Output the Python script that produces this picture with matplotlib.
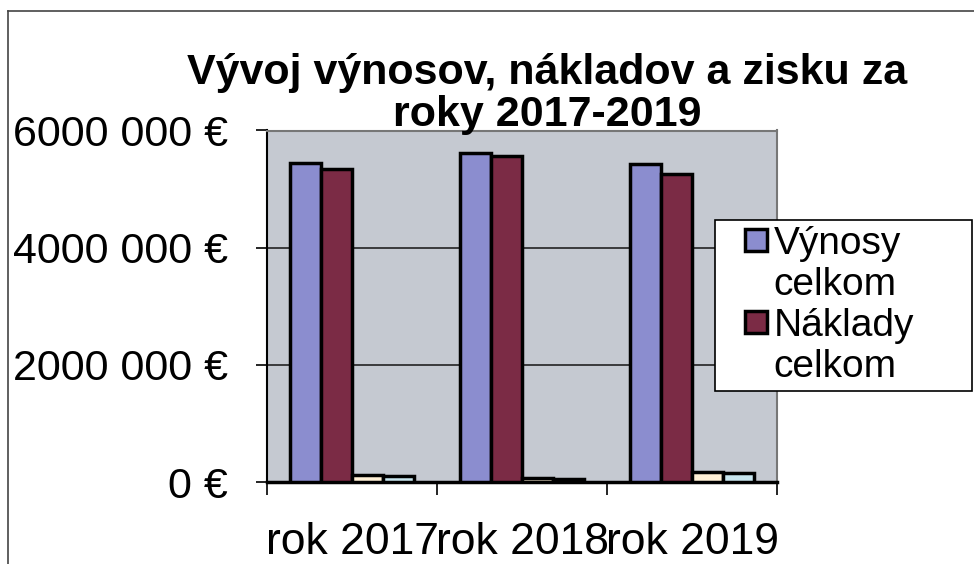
import matplotlib.pyplot as plt
from matplotlib.lines import Line2D
import numpy as np

plt.rcParams['font.family'] = ['Liberation Sans', 'DejaVu Sans']

# data
years = ['rok 2017', 'rok 2018', 'rok 2019']
vynosy = [5440000, 5620000, 5430000]
naklady = [5340000, 5570000, 5250000]
zisk_pred = [120000, 70000, 175000]
zisk_po = [95000, 45000, 160000]
series_names = ['Výnosy\ncelkom', 'Náklady\ncelkom']
yticks = [0, 2000000, 4000000, 6000000]
ytick_labels = ['0 €', '2000 000 €', '4000 000 €', '6000 000 €']

colors = ['#8b8dcf', '#7b2b45', '#fff0d6', '#c9e6ef']

fig = plt.figure(figsize=(9.74, 5.64), dpi=100)
ax = fig.add_axes([267/974, 1-482/564, 510/974, 351.5/564])
ax.set_facecolor('#c5c9d1')

x = np.arange(len(years))
w = 1/5.5
all_series = [vynosy, naklady, zisk_pred, zisk_po]
for i, (vals, c) in enumerate(zip(all_series, colors)):
    ax.bar(x - 1.5*w + i*w, vals, width=w, color=c, edgecolor='black',
           linewidth=2.5, zorder=3)

ax.set_xlim(-0.5, 2.5)
ax.set_ylim(0, 6000000)
ax.set_yticks(yticks)
ax.set_yticklabels(ytick_labels, fontsize=31)
ax.yaxis.grid(True, color='#222222', linewidth=1.2, zorder=1)
ax.tick_params(axis='y', length=8, width=1.2, pad=20)

ax.set_xticks([-0.5, 0.5, 1.5, 2.5])
ax.set_xticklabels([])
ax.tick_params(axis='x', which='major', length=9, width=1.2, direction='out')
ax.set_xticks(x, minor=True)
ax.set_xticklabels(years, minor=True, fontsize=32)
ax.tick_params(axis='x', which='minor', length=0, pad=29)

for s in ['top', 'right']:
    ax.spines[s].set_color('#777777')
    ax.spines[s].set_linewidth(1.5)
ax.spines['left'].set_linewidth(1.5)
ax.spines['bottom'].set_linewidth(2.5)

fig.text(0.562, 1-94/564, 'Vývoj výnosov, nákladov a zisku za\nroky 2017-2019',
         ha='center', va='center', fontsize=31, fontweight='bold',
         linespacing=1.08)

# legend: one square per series, second line of label without marker
handles, labels = [], []
for name, c in zip(series_names, colors[:2]):
    first, second = name.split('\n')
    handles.append(Line2D([], [], marker='s', markersize=16, linestyle='none',
                          markerfacecolor=c, markeredgecolor='black',
                          markeredgewidth=2.5))
    labels.append(first)
    handles.append(Line2D([], [], linestyle='none'))
    labels.append(second)
leg = fig.legend(handles, labels, loc='upper left', mode='expand', numpoints=1,
                 bbox_to_anchor=(715/974, 1-390/564, 257/974, 170/564),
                 fontsize=28, frameon=True, fancybox=False, edgecolor='black',
                 framealpha=1, handlelength=1.8, handletextpad=-0.45,
                 labelspacing=0.13, borderpad=0.15, borderaxespad=0)
leg.get_frame().set_linewidth(1.2)

# outer frame lines
fig.add_artist(plt.Line2D([8/974, 8/974], [0, 1-11/564], color='#444444', linewidth=1.2))
fig.add_artist(plt.Line2D([8/974, 1], [1-11/564, 1-11/564], color='#444444', linewidth=1.2))

fig.savefig('out.png', dpi=100)
